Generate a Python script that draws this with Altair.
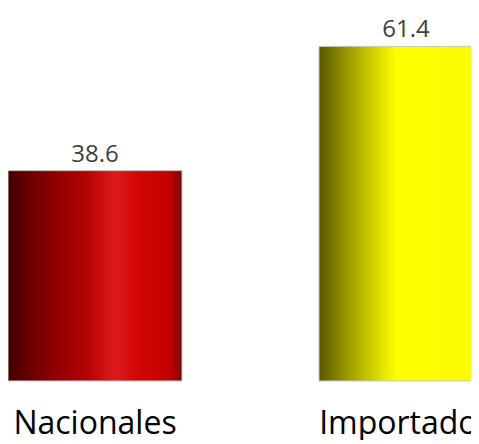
import altair as alt
import pandas as pd

categories = ["Nacionales", "Importados"]
values = [38.6, 61.4]
value_labels = ["38.6", "61.4"]

df = pd.DataFrame({"cat": categories, "val": values, "lbl": value_labels})

red_grad = {
    "gradient": "linear", "x1": 0, "x2": 1, "y1": 0, "y2": 0,
    "stops": [
        {"offset": 0.0, "color": "#420000"},
        {"offset": 0.13, "color": "#6a0000"},
        {"offset": 0.25, "color": "#8c0000"},
        {"offset": 0.47, "color": "#b80404"},
        {"offset": 0.61, "color": "#dc1a1a"},
        {"offset": 0.76, "color": "#d20404"},
        {"offset": 0.93, "color": "#c20000"},
        {"offset": 1.0, "color": "#7a0808"},
    ],
}
yellow_grad = {
    "gradient": "linear", "x1": 0, "x2": 1, "y1": 0, "y2": 0,
    "stops": [
        {"offset": 0.0, "color": "#585800"},
        {"offset": 0.18, "color": "#a0a000"},
        {"offset": 0.36, "color": "#e2e200"},
        {"offset": 0.45, "color": "#ffff00"},
        {"offset": 0.9, "color": "#fafa00"},
        {"offset": 1.0, "color": "#c8c800"},
    ],
}

x_enc = alt.X(
    "cat:N",
    sort=categories,
    scale=alt.Scale(domain=categories, range=[0, 485], paddingInner=0.4405, paddingOuter=0),
    axis=None,
)
# plot area spans page y 8..440; zero line at page y 381
y_scale = alt.Scale(domain=[-10.83, 68.44], nice=False, zero=False)

base = alt.Chart(df)

bar_red = base.transform_filter(alt.datum.cat == "Nacionales").mark_bar(
    color=red_grad, stroke="#c8c8c8", strokeWidth=1
).encode(x=x_enc, y=alt.Y("val:Q", scale=y_scale, axis=None), y2=alt.datum(0))

bar_yel = base.transform_filter(alt.datum.cat == "Importados").mark_bar(
    color=yellow_grad, stroke="#c8c8c8", strokeWidth=1
).encode(x=x_enc, y=alt.Y("val:Q", scale=y_scale, axis=None), y2=alt.datum(0))

val_text = base.mark_text(
    font="Open Sans", fontSize=24, color="#404040", baseline="alphabetic", dy=-9
).encode(x=x_enc, y=alt.Y("val:Q", scale=y_scale, axis=None), text="lbl:N")

cat_text = base.mark_text(
    font="Open Sans", fontSize=32, color="#000000", baseline="alphabetic", dy=53
).encode(x=x_enc, y=alt.datum(0), text="cat:N")

chart = alt.layer(bar_red, bar_yel, val_text, cat_text).properties(
    width=463, height=432, padding=0, autosize=alt.AutoSizeParams(type="none"),
    background="white",
).configure_view(stroke=None)

chart.save("out.html", embed_options={"renderer": "svg", "actions": False})
